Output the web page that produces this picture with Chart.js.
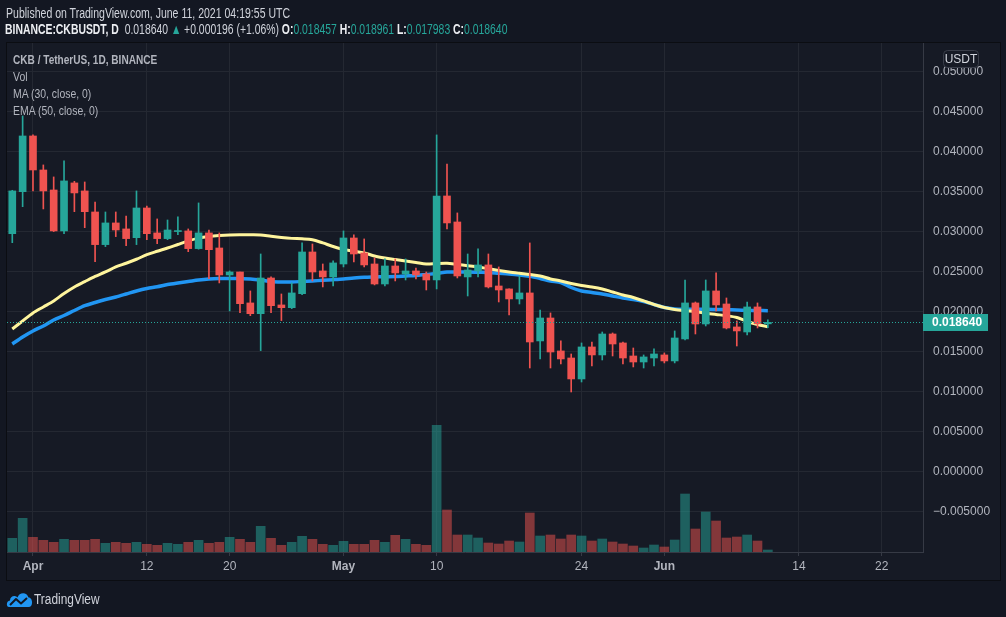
<!DOCTYPE html>
<html>
<head>
<meta charset="utf-8">
<script src="https://cdn.jsdelivr.net/npm/chart.js@4/dist/chart.umd.min.js"></script>
<style>
  html, body { margin: 0; padding: 0; background: #131722; }
  body { width: 1006px; height: 617px; position: relative; overflow: hidden; font-family: "Liberation Sans", Arial, sans-serif; }
  .pane { position: absolute; left: 6px; top: 42px; width: 993px; height: 537px; border: 1px solid #0b0d12; background: #161a25; }
  #chart { position: absolute; left: 0; top: 0; }
  .txt { position: absolute; white-space: nowrap; line-height: 16px; transform-origin: 0 50%; }
  .head1 { left: 6px; top: 5px; font-size: 14px; color: #d1d4dc; transform: scaleX(0.752); }
  .head2 { left: 5px; top: 21px; font-size: 14px; color: #d1d4dc; transform: scaleX(0.743); }
  .head2 b { font-weight: bold; color: #eceef2; }
  .up { color: #26a69a; }
  .legend { left: 13px; font-size: 13px; color: #b2b5be; transform: scaleX(0.803); }
  .logo { left: 6px; top: 590px; height: 18px; }
  .logo span { position: absolute; left: 28px; top: 1px; font-size: 14px; color: #d1d4dc; line-height: 16px; transform: scaleX(0.85); transform-origin: 0 50%; }
</style>
</head>
<body>
<div class="pane"></div>
<canvas id="chart" width="1006" height="617"></canvas>

<div class="txt head1">Published on TradingView.com, June 11, 2021 04:19:55 UTC</div>
<div class="txt head2"><b>BINANCE:CKBUSDT, D</b>&nbsp; 0.018640 <span class="up">▲</span> +0.000196 (+1.06%) <b>O:</b><span class="up">0.018457</span> <b>H:</b><span class="up">0.018961</span> <b>L:</b><span class="up">0.017983</span> <b>C:</b><span class="up">0.018640</span></div>

<div class="txt legend" style="top:52px;font-weight:bold;transform:scaleX(0.775);">CKB / TetherUS, 1D, BINANCE</div>
<div class="txt legend" style="top:69px;">Vol</div>
<div class="txt legend" style="top:86px;">MA (30, close, 0)</div>
<div class="txt legend" style="top:103px;">EMA (50, close, 0)</div>

<div class="txt logo">
  <svg width="27" height="18" viewBox="0 0 27 18">
    <path d="M3 17 C0 17 0 11 4 10.5 C4 6 9 4.5 11.5 7.5 C13 2 21 1.5 22.5 7.5 C27 7.5 27.5 17 22.5 17 Z" fill="#2196f3"/>
    <path d="M4 15 L10 9 L15 13.5 L21 8" stroke="#131722" stroke-width="2" fill="none" stroke-linejoin="round"/>
  </svg>
  <span>TradingView</span>
</div>

<script>
// daily candles, 30 Mar – 11 Jun 2021 (index 0 = 30 Mar)
const opens = [0.02973, 0.03498, 0.04194, 0.03769, 0.03519, 0.03007, 0.03607, 0.03507, 0.03244, 0.02836,
  0.03107, 0.03032, 0.02923, 0.03294, 0.02982, 0.02911, 0.02999, 0.03007, 0.02786, 0.02982,
  0.02794, 0.02457, 0.02494, 0.02107, 0.01973, 0.02419, 0.02082, 0.02048, 0.02223, 0.02744,
  0.02507, 0.02432, 0.02594, 0.02919, 0.02732, 0.02594, 0.02344, 0.02569, 0.02469, 0.02507,
  0.02469, 0.02394, 0.03444, 0.03119, 0.02432, 0.02507, 0.02582, 0.02319, 0.02282, 0.02157,
  0.02232, 0.01632, 0.01919, 0.01507, 0.01419, 0.01157, 0.01557, 0.01457, 0.01719, 0.01607,
  0.01444, 0.01369, 0.01419, 0.01457, 0.01382, 0.01657, 0.02107, 0.01844, 0.02257, 0.02094,
  0.01807, 0.01744, 0.02057, 0.018457];
const highs = [0.03515, 0.04444, 0.04209, 0.03832, 0.03682, 0.03882, 0.03627, 0.03619, 0.03369, 0.03244,
  0.03244, 0.03194, 0.03507, 0.03319, 0.03157, 0.03144, 0.03182, 0.03032, 0.03357, 0.03019,
  0.02982, 0.02507, 0.02494, 0.02257, 0.02719, 0.02432, 0.02219, 0.02357, 0.02857, 0.02844,
  0.02594, 0.02632, 0.03007, 0.02957, 0.02907, 0.02669, 0.02657, 0.02657, 0.02657, 0.02544,
  0.02494, 0.04207, 0.03844, 0.03232, 0.02719, 0.02782, 0.02719, 0.02557, 0.02282, 0.02444,
  0.02857, 0.02019, 0.01982, 0.01632, 0.01469, 0.01607, 0.01619, 0.01744, 0.01732, 0.01619,
  0.01544, 0.01457, 0.01532, 0.01482, 0.01757, 0.02394, 0.02119, 0.02394, 0.02482, 0.02169,
  0.01882, 0.02119, 0.02107, 0.018961];
const lows = [0.0286, 0.0331, 0.03507, 0.03282, 0.02999, 0.02973, 0.03248, 0.03048, 0.02623, 0.02811,
  0.02936, 0.02823, 0.02836, 0.02898, 0.02848, 0.02898, 0.02961, 0.02748, 0.02779, 0.02411,
  0.02357, 0.02007, 0.01986, 0.01948, 0.01511, 0.01986, 0.01886, 0.02036, 0.02211, 0.02382,
  0.02307, 0.02319, 0.02557, 0.02619, 0.02557, 0.02332, 0.02319, 0.02382, 0.02394, 0.02407,
  0.02269, 0.02282, 0.03032, 0.02419, 0.02194, 0.02432, 0.02294, 0.02119, 0.01957, 0.02094,
  0.01294, 0.01407, 0.01294, 0.01344, 0.00994, 0.01119, 0.01319, 0.01394, 0.01444, 0.01344,
  0.01307, 0.01294, 0.01319, 0.01357, 0.01357, 0.01644, 0.01719, 0.01819, 0.02007, 0.01782,
  0.01569, 0.01707, 0.01794, 0.017983];
const closes = [0.03507, 0.04194, 0.03769, 0.03507, 0.03007, 0.03632, 0.03482, 0.03248, 0.02836, 0.03107,
  0.03019, 0.02911, 0.03294, 0.02973, 0.02911, 0.03019, 0.03007, 0.02786, 0.02982, 0.02773,
  0.02457, 0.02494, 0.02098, 0.01973, 0.02419, 0.02073, 0.02048, 0.02232, 0.02744, 0.02494,
  0.02432, 0.02607, 0.02919, 0.02719, 0.02582, 0.02344, 0.02569, 0.02482, 0.02507, 0.02457,
  0.02394, 0.03444, 0.03107, 0.02444, 0.02519, 0.02582, 0.02307, 0.02269, 0.02157, 0.02232,
  0.01619, 0.01919, 0.01494, 0.01407, 0.01157, 0.01557, 0.01457, 0.01719, 0.01594, 0.01419,
  0.01369, 0.01432, 0.01469, 0.01382, 0.01669, 0.02107, 0.01844, 0.02257, 0.02082, 0.01794,
  0.01757, 0.02057, 0.01846, 0.01864];
// volume, millions of CKB
const volumes = [137, 337, 147, 117, 97, 127, 117, 117, 127, 87,
  97, 87, 97, 77, 67, 87, 77, 97, 117, 87,
  97, 147, 127, 97, 257, 137, 67, 97, 157, 127,
  77, 67, 107, 77, 77, 117, 97, 167, 127, 77,
  67, 1267, 420, 170, 170, 140, 90, 80, 110, 100,
  390, 160, 170, 130, 170, 160, 110, 130, 100, 80,
  60, 40, 70, 50, 120, 580, 230, 400, 310, 140,
  150, 170, 110, 20];
const ma30 = [0.01782, 0.01882, 0.01982, 0.02057, 0.02132, 0.02225, 0.02307, 0.02373, 0.02438, 0.02494,
  0.02557, 0.02603, 0.02653, 0.0271, 0.02753, 0.02794, 0.02838, 0.02882, 0.02917, 0.02938,
  0.0295, 0.02957, 0.02959, 0.02959, 0.02957, 0.0294, 0.02925, 0.02914, 0.02909, 0.02898,
  0.02857, 0.02813, 0.02775, 0.02753, 0.02732, 0.02694, 0.02669, 0.0265, 0.02632, 0.02613,
  0.02594, 0.026, 0.02603, 0.02588, 0.02573, 0.02557, 0.02535, 0.02513, 0.02494, 0.02478,
  0.02463, 0.02444, 0.02407, 0.02382, 0.0235, 0.02325, 0.02307, 0.02282, 0.02244, 0.02207,
  0.02175, 0.02132, 0.02088, 0.0205, 0.02025, 0.0201, 0.01998, 0.01979, 0.01963, 0.01948,
  0.01925, 0.01875, 0.01838, 0.0181];
const ema50 = [0.01594, 0.01682, 0.01757, 0.01819, 0.01894, 0.0195, 0.02013, 0.02073, 0.02113, 0.0215,
  0.02182, 0.02219, 0.02257, 0.02288, 0.0231, 0.02337, 0.02357, 0.02375, 0.02394, 0.02407,
  0.02413, 0.02413, 0.0241, 0.02407, 0.02394, 0.02375, 0.02369, 0.02369, 0.02375, 0.02382,
  0.0239, 0.02398, 0.02407, 0.02419, 0.02428, 0.02432, 0.02435, 0.02438, 0.02444, 0.0245,
  0.02463, 0.02475, 0.02494, 0.02494, 0.02494, 0.02491, 0.02488, 0.02478, 0.02469, 0.02457,
  0.0244, 0.02413, 0.02382, 0.02363, 0.023, 0.02257, 0.02238, 0.02219, 0.02194, 0.02169,
  0.0215, 0.02125, 0.02088, 0.0205, 0.02032, 0.02028, 0.02028, 0.02028, 0.02025, 0.02022,
  0.02019, 0.02015, 0.02013, 0.0201];

// x-axis date ticks (day index from 30 Mar)
const dateTickIdx = [2, 13, 21, 32, 41, 55, 63, 76, 84];
const dateTickLabels = ['Apr', '12', '20', 'May', '10', '24', 'Jun', '14', '22'];
const monthLabels = ['Apr', 'May', 'Jun'];
// price scale ticks
const priceTicks = [-0.005, 0, 0.005, 0.01, 0.015, 0.02, 0.025, 0.03, 0.035, 0.04, 0.045, 0.05];
const priceTickLabels = ['\u22120.005000', '0.000000', '0.005000', '0.010000', '0.015000', '0.020000',
  '0.025000', '0.030000', '0.035000', '0.040000', '0.045000', '0.050000'];
const lastPrice = 0.01864;
const lastPriceLabel = '0.018640';

const UP = '#26a69a', DOWN = '#ef5350';
const UP_VOL = 'rgba(38, 166, 154, 0.5)', DOWN_VOL = 'rgba(239, 83, 80, 0.5)';
const GRID = '#242832';
const AXIS_TEXT = '#b2b5be';

const isUp = closes.map((c, i) => c >= opens[i]);
const candleColors = isUp.map(u => u ? UP : DOWN);
const volColors = isUp.map(u => u ? UP_VOL : DOWN_VOL);

// last price line + label, USDT badge
const overlayPlugin = {
    id: 'overlay',
    afterDatasetsDraw(chart) {
        const { ctx, chartArea } = chart;
        const y = Math.round(chart.scales.y.getPixelForValue(lastPrice)) + 0.5;
        ctx.save();
        ctx.strokeStyle = UP;
        ctx.lineWidth = 1;
        ctx.setLineDash([1, 2]);
        ctx.beginPath();
        ctx.moveTo(chartArea.left, y);
        ctx.lineTo(chartArea.right, y);
        ctx.stroke();
        ctx.restore();
    },
    afterDraw(chart) {
        const { ctx, chartArea } = chart;
        const y = Math.round(chart.scales.y.getPixelForValue(lastPrice));
        ctx.save();
        ctx.fillStyle = UP;
        ctx.fillRect(chartArea.right, y - 8, 65, 17);
        ctx.fillStyle = '#ffffff';
        ctx.font = 'bold 12px "Liberation Sans", Arial, sans-serif';
        ctx.textBaseline = 'middle';
        ctx.fillText(lastPriceLabel, chartArea.right + 9, y + 1);

        // USDT badge
        const bx = chartArea.right + 20, by = 50, bw = 35, bh = 17;
        ctx.fillStyle = '#161a25';
        ctx.strokeStyle = '#3a3e4a';
        ctx.lineWidth = 1;
        ctx.beginPath();
        ctx.roundRect(bx + 0.5, by + 0.5, bw, bh, 4);
        ctx.fill();
        ctx.stroke();
        ctx.fillStyle = '#d1d4dc';
        ctx.font = '12px "Liberation Sans", Arial, sans-serif';
        ctx.textAlign = 'center';
        ctx.fillText('USDT', bx + bw / 2 + 0.5, by + bh / 2 + 1);
        ctx.restore();
    }
};

const ctx = document.getElementById('chart').getContext('2d');
new Chart(ctx, {
    type: 'bar',
    data: {
        datasets: [
            {
                label: 'Body',
                data: opens.map((o, i) => ({ x: i, y: [o, closes[i]] })),
                backgroundColor: candleColors,
                barThickness: 7,
                minBarLength: 1,
                grouped: false,
                order: 0
            },
            {
                label: 'Wick',
                data: lows.map((l, i) => ({ x: i, y: [l, highs[i]] })),
                backgroundColor: candleColors,
                barThickness: 1,
                grouped: false,
                order: 1
            },
            {
                type: 'line',
                label: 'MA (30, close, 0)',
                data: ma30.map((v, i) => ({ x: i, y: v })),
                borderColor: '#fff59d',
                borderWidth: 3,
                pointRadius: 0,
                tension: 0.3,
                order: 2
            },
            {
                type: 'line',
                label: 'EMA (50, close, 0)',
                data: ema50.map((v, i) => ({ x: i, y: v })),
                borderColor: '#2196f3',
                borderWidth: 3.5,
                pointRadius: 0,
                tension: 0.3,
                order: 3
            },
            {
                label: 'Vol',
                data: volumes.map((v, i) => ({ x: i, y: v })),
                backgroundColor: volColors,
                barThickness: 9,
                grouped: false,
                yAxisID: 'yVol',
                order: 4
            }
        ]
    },
    options: {
        responsive: false,
        animation: false,
        devicePixelRatio: 1,
        layout: { padding: { left: 7, top: 43, right: 6, bottom: 37 } },
        plugins: { legend: { display: false }, tooltip: { enabled: false } },
        scales: {
            x: {
                type: 'linear',
                min: -0.51,
                max: 87.99,
                offset: false,
                grid: { color: GRID, offset: false, drawTicks: true, tickLength: 4, tickColor: '#363a45' },
                border: { display: true, color: '#363a45' },
                afterBuildTicks: (scale) => { scale.ticks = dateTickIdx.map(v => ({ value: v })); },
                afterFit: (scale) => { scale.height = 28; },
                ticks: {
                    autoSkip: false,
                    maxRotation: 0,
                    padding: 3,
                    color: AXIS_TEXT,
                    font: (c) => ({
                        family: '"Liberation Sans", Arial, sans-serif',
                        size: 12,
                        weight: c.tick && monthLabels.includes(dateTickLabels[dateTickIdx.indexOf(c.tick.value)]) ? 'bold' : 'normal'
                    }),
                    callback: (v) => dateTickLabels[dateTickIdx.indexOf(v)] ?? ''
                }
            },
            y: {
                position: 'right',
                min: -0.01006,
                max: 0.05356,
                grid: { color: GRID, drawTicks: false },
                border: { display: true, color: '#363a45' },
                afterBuildTicks: (scale) => { scale.ticks = priceTicks.map(v => ({ value: v })); },
                afterFit: (scale) => { scale.width = 77; },
                ticks: {
                    padding: 10,
                    color: AXIS_TEXT,
                    font: { family: '"Liberation Sans", Arial, sans-serif', size: 12 },
                    callback: (v) => priceTickLabels[priceTicks.findIndex(p => Math.abs(p - v) < 1e-9)] ?? ''
                }
            },
            yVol: {
                display: false,
                min: 0,
                max: 5090
            }
        }
    },
    plugins: [overlayPlugin]
});
</script>
</body>
</html>
